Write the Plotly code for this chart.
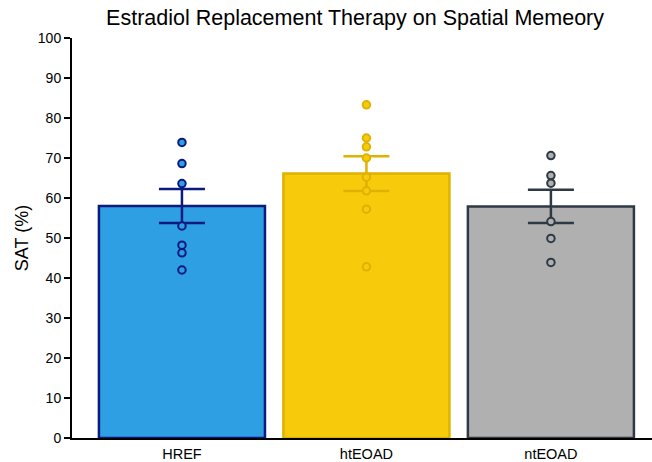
import plotly.graph_objects as go

groups = ["HREF", "htEOAD", "ntEOAD"]
means = [58.0, 66.1, 57.9]
sems = [4.25, 4.35, 4.15]
href_pts = [73.9, 68.6, 63.6, 53.0, 48.2, 46.3, 42.0]
ht_pts = [83.3, 75.0, 72.8, 70.0, 65.2, 61.8, 57.2, 42.8]
nt_pts = [70.6, 65.6, 63.7, 54.1, 49.9, 43.9]
points = [href_pts, ht_pts, nt_pts]
yticks = list(range(0, 101, 10))

fills = ["#2F9FE3", "#F7CB0C", "#B0B0B0"]
edges = ["#0B1A7E", "#DDB200", "#2D3944"]

fig = go.Figure()
for i, g in enumerate(groups):
    fig.add_trace(go.Bar(
        x=[i], y=[means[i]], width=0.9, name=g,
        marker=dict(color=fills[i], line=dict(color=edges[i], width=2.5)),
        error_y=dict(type="data", array=[sems[i]], visible=True,
                     color=edges[i], thickness=2.5, width=23),
        showlegend=False,
    ))
for i, g in enumerate(groups):
    fig.add_trace(go.Scatter(
        x=[i] * len(points[i]), y=points[i], mode="markers",
        marker=dict(size=7.5, color=fills[i], line=dict(color=edges[i], width=2)),
        showlegend=False, cliponaxis=False,
    ))

fig.update_layout(
    width=652, height=462,
    margin=dict(l=72, r=0, t=38, b=24),
    plot_bgcolor="white", paper_bgcolor="white",
    barmode="overlay",
    font=dict(family="Liberation Sans, Arial, sans-serif", color="black"),
    title=dict(text="Estradiol Replacement Therapy on Spatial Memeory",
               x=0.488, xanchor="center", xref="paper",
               y=0.962, yanchor="middle", yref="container",
               font=dict(size=21.5, color="black")),
)
fig.update_xaxes(
    range=[-0.596, 2.548], tickvals=[0, 1, 2], ticktext=groups,
    showline=True, linecolor="black", linewidth=2, ticks="",
    showgrid=False, zeroline=False, tickfont=dict(size=14.5, color="black"),
    automargin=False, ticklabelstandoff=2,
)
fig.update_yaxes(
    range=[0, 100], tickvals=yticks, showline=True, linecolor="black", linewidth=2,
    ticks="outside", ticklen=6, tickwidth=2, tickcolor="black",
    showgrid=False, zeroline=False, tickfont=dict(size=14, color="black"),
    title=dict(text="SAT (%)", font=dict(size=18, color="black"), standoff=5),
    automargin=False,
)
fig.write_html("out.html", config={"displayModeBar": False},
               post_script="document.body.style.margin='0';document.body.style.overflow='hidden';")
